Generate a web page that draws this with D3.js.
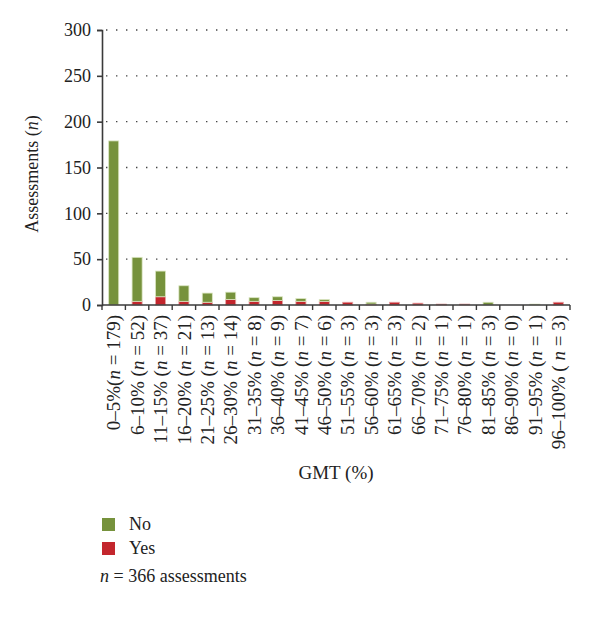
<!DOCTYPE html>
<html>
<head>
<meta charset="utf-8">
<script src="https://cdn.jsdelivr.net/npm/d3@7"></script>
<style>
  body { margin: 0; background: #fff; }
  text { font-family: "Liberation Serif", "DejaVu Serif", serif; fill: #222; }
</style>
</head>
<body>
<svg width="600" height="618"></svg>
<script>
// data
var ranges = ['0–5%', '6–10%', '11–15%', '16–20%', '21–25%', '26–30%', '31–35%', '36–40%',
  '41–45%', '46–50%', '51–55%', '56–60%', '61–65%', '66–70%', '71–75%', '76–80%',
  '81–85%', '86–90%', '91–95%', '96–100%'];
var totals = [179, 52, 37, 21, 13, 14, 8, 9, 7, 6, 3, 3, 3, 2, 1, 1, 3, 0, 1, 3];
var yes = [0, 4, 9, 4, 3, 6, 4, 5, 4, 4, 3, 1, 3, 2, 1, 1, 0, 0, 0, 3];
var no = [179, 48, 28, 17, 10, 8, 4, 4, 3, 2, 0, 2, 0, 0, 0, 0, 3, 0, 1, 0];
var yTicks = [0, 50, 100, 150, 200, 250, 300];

var green = '#76923c';
var red = '#c3262d';

var svg = d3.select('svg');
var pLeft = 102, pRight = 570, pTop = 30, pBottom = 305;

var x = d3.scaleBand().domain(ranges).range([pLeft, pRight]).paddingInner(0.57).paddingOuter(0.285);
var y = d3.scaleLinear().domain([0, 300]).range([pBottom, pTop]);

//dotted grid
svg.append('g').selectAll('line')
  .data(yTicks.slice(1))
  .enter().append('line')
  .attr('x1', pLeft + 4).attr('x2', pRight)
  .attr('y1', d => y(d)).attr('y2', d => y(d))
  .attr('stroke', '#444')
  .attr('stroke-width', 1.4)
  .attr('stroke-dasharray', '1.4,8.6');

//stacked bars: Yes at bottom, No on top
var rows = ranges.map((r, i) => ({ range: r, Yes: yes[i], No: no[i] }));
var stack = d3.stack().keys(['Yes', 'No'])(rows);
var colors = { Yes: red, No: green };
var edges = { Yes: '#e7a3a3', No: '#dbe6c2' };

svg.append('g').selectAll('g')
  .data(stack)
  .enter().append('g')
  .attr('fill', d => colors[d.key])
  .attr('stroke', d => edges[d.key])
  .selectAll('rect')
  .data(d => d)
  .enter().append('rect')
  .filter(d => d[1] - d[0] > 0)
  .attr('x', d => x(d.data.range))
  .attr('width', x.bandwidth())
  .attr('y', d => y(d[1]))
  .attr('height', d => y(d[0]) - y(d[1]))
  .attr('stroke-width', 0.8);

//y axis
var yAxis = svg.append('g')
  .attr('transform', 'translate(' + pLeft + ',0)')
  .call(d3.axisLeft(y).tickValues(yTicks).tickSize(5).tickPadding(6));
yAxis.selectAll('text').style('font-size', '18px').attr('font-family', null);
yAxis.selectAll('line, path').attr('stroke', '#3a3a3a').attr('stroke-width', 1.6);

//x axis with ticks between bands
var xAxis = svg.append('g').attr('transform', 'translate(0,' + pBottom + ')');
xAxis.append('line')
  .attr('x1', pLeft).attr('x2', pRight)
  .attr('stroke', '#3a3a3a').attr('stroke-width', 1.6);
var bounds = d3.range(ranges.length + 1).map(i => pLeft + i * x.step());
xAxis.selectAll('.tk')
  .data(bounds)
  .enter().append('line')
  .attr('x1', d => d).attr('x2', d => d)
  .attr('y1', 0).attr('y2', 5)
  .attr('stroke', '#3a3a3a').attr('stroke-width', 1.4);

//rotated category labels
var labels = svg.append('g').selectAll('text')
  .data(ranges)
  .enter().append('text')
  .attr('transform', d => 'translate(' + (x(d) + x.bandwidth() / 2) + ',315) rotate(-90)')
  .attr('text-anchor', 'end')
  .attr('dy', '0.35em')
  .style('font-size', '19px');
labels.each(function (d, i) {
  var t = d3.select(this);
  var open = i === 0 ? '(' : (i === ranges.length - 1 ? ' ( ' : ' (');
  t.append('tspan').text(d + open);
  t.append('tspan').style('font-style', 'italic').text('n');
  t.append('tspan').text(' = ' + totals[i] + ')');
});

//axis titles
svg.append('text')
  .attr('x', 336).attr('y', 479)
  .attr('text-anchor', 'middle')
  .style('font-size', '19px')
  .text('GMT (%)');

var yt = svg.append('text')
  .attr('transform', 'translate(38,174) rotate(-90)')
  .attr('text-anchor', 'middle')
  .style('font-size', '18px');
yt.append('tspan').text('Assessments (');
yt.append('tspan').style('font-style', 'italic').text('n');
yt.append('tspan').text(')');

//legend
var legend = [{ key: 'No', color: green }, { key: 'Yes', color: red }];
var lg = svg.append('g').selectAll('g')
  .data(legend)
  .enter().append('g')
  .attr('transform', (d, i) => 'translate(102,' + (518 + i * 24) + ')');
lg.append('rect').attr('width', 13).attr('height', 13).attr('fill', d => d.color);
lg.append('text').attr('x', 27).attr('y', 12).style('font-size', '18px').text(d => d.key);

var note = svg.append('text').attr('x', 100).attr('y', 582).style('font-size', '18px');
note.append('tspan').style('font-style', 'italic').text('n');
note.append('tspan').text(' = 366 assessments');
</script>
</body>
</html>
